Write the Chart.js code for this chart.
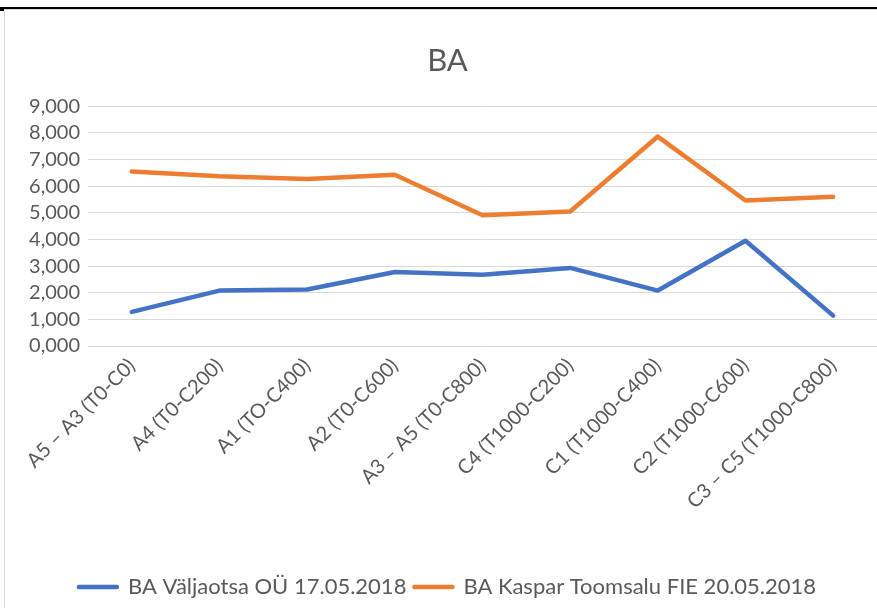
<!DOCTYPE html>
<html>
<head>
<meta charset="utf-8">
<script src="https://cdn.jsdelivr.net/npm/chart.js@4/dist/chart.umd.min.js"></script>
<style>
  body { margin: 0; background: #fff; }
  #wrap { position: relative; width: 877px; height: 608px; overflow: hidden; }
  #topLine { position: absolute; left: 0; top: 7px; width: 877px; height: 2px; background: #000; }
  #nub { position: absolute; left: 0; top: 9px; width: 5px; height: 2px; background: #000; }
  #frame { position: absolute; left: 4px; top: 9px; right: -2px; bottom: -2px;
           border-left: 1px solid #d9d9d9; border-top: 1px solid #d9d9d9; }
  canvas { position: absolute; left: 0; top: 0; }
</style>
</head>
<body>
<div id="wrap">
  <div id="topLine"></div>
  <div id="nub"></div>
  <div id="frame"></div>
  <canvas id="baChart" width="877" height="608"></canvas>
</div>
<script>
// Categories and series
const categories = [
  'A5 – A3 (T0-C0)', 'A4 (T0-C200)', 'A1 (TO-C400)', 'A2 (T0-C600)',
  'A3 – A5 (T0-C800)', 'C4 (T1000-C200)', 'C1 (T1000-C400)',
  'C2 (T1000-C600)', 'C3 – C5 (T1000-C800)'
];
const valjaotsa = [1.28, 2.08, 2.12, 2.78, 2.67, 2.93, 2.08, 3.95, 1.14];
const toomsalu = [6.55, 6.37, 6.27, 6.43, 4.91, 5.05, 7.86, 5.46, 5.60];
const seriesNames = ['BA Väljaotsa OÜ 17.05.2018', 'BA Kaspar Toomsalu FIE 20.05.2018'];

Chart.defaults.font.family = 'Lato';
Chart.defaults.color = '#595959';

const ctx = document.getElementById('baChart').getContext('2d');
const baChart = new Chart(ctx, {
    type: 'line',
    data: {
        labels: categories,
        datasets: [{
            label: seriesNames[0],
            data: valjaotsa,
            borderColor: '#4472c4',
            backgroundColor: '#4472c4',
            borderWidth: 4.5,
            borderCapStyle: 'round',
            borderJoinStyle: 'round',
            pointRadius: 0,
            tension: 0
        }, {
            label: seriesNames[1],
            data: toomsalu,
            borderColor: '#ed7d31',
            backgroundColor: '#ed7d31',
            borderWidth: 4.5,
            borderCapStyle: 'round',
            borderJoinStyle: 'round',
            pointRadius: 0,
            tension: 0
        }]
    },
    options: {
        responsive: false,
        animation: false,
        layout: { padding: { left: 18, right: 0, top: 0, bottom: 0 } },
        scales: {
            x: {
                offset: true,
                grid: { display: false },
                border: { display: false },
                ticks: {
                    autoSkip: false,
                    maxRotation: 45,
                    minRotation: 45,
                    padding: 0,
                    font: { size: 20 },
                    color: '#595959'
                },
                afterFit: (scale) => {
                    scale.height = 222;
                    scale.paddingLeft = 0;
                    scale.paddingRight = 0;
                }
            },
            y: {
                min: 0,
                max: 9,
                grid: { color: '#d9d9d9', lineWidth: 1, drawTicks: false },
                border: { display: false },
                ticks: {
                    stepSize: 1,
                    autoSkip: false,
                    padding: 8,
                    font: { size: 20 },
                    color: '#595959',
                    callback: (v) => v.toFixed(3).replace('.', ',')
                },
                afterFit: (scale) => {
                    scale.width = 70;
                    scale.paddingTop = 0;
                    scale.paddingBottom = 0;
                }
            }
        },
        plugins: {
            title: {
                display: true,
                text: 'BA',
                color: '#595959',
                font: { size: 31, weight: 'normal' },
                padding: { top: 42, bottom: 27 }
            },
            legend: {
                position: 'bottom',
                labels: {
                    boxWidth: 38,
                    boxHeight: 0,
                    padding: 8,
                    font: { size: 22 },
                    color: '#595959'
                }
            },
            tooltip: { enabled: false }
        }
    }
});
</script>
</body>
</html>
